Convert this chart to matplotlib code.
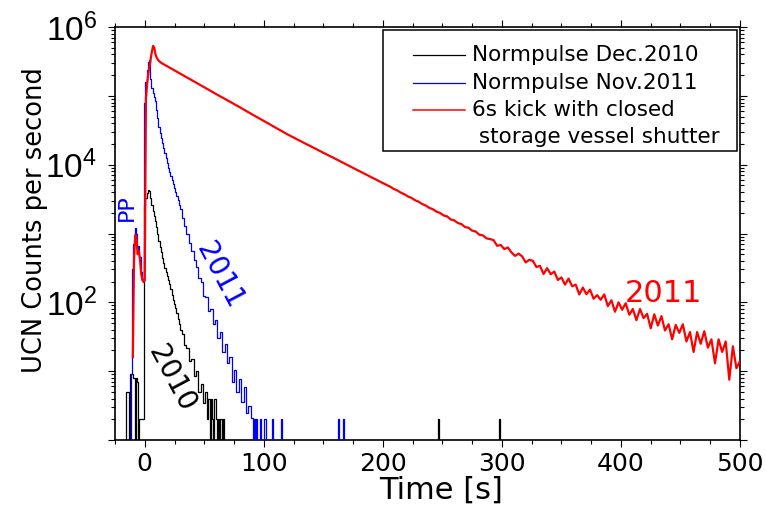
import numpy as np
import matplotlib
matplotlib.use("Agg")
import matplotlib.pyplot as plt
from matplotlib.lines import Line2D
from matplotlib.patches import Rectangle
from matplotlib.ticker import MultipleLocator, FixedLocator, NullFormatter

# figure size in pixels (dpi 100)
W, H = 766, 515

# ---------------------------------------------------------------
# Values, UCN rate in counts per second.
# Each histogram segment: first bin centre [s], bin width [s], rates
# ---------------------------------------------------------------

# 6 s kick with closed storage vessel shutter (red)
red_early_start, red_early_step = -10, 1
red_early = [16, 420, 950, 880, 500, 560, 420, 260, 210, 200,
             210, 9.0e4, 1.5e5, 2.1e5, 2.7e5, 3.4e5, 4.4e5, 5.3e5, 5.0e5, 4.0e5,
             3.6e5, 3.35e5, 3.2e5, 3.1e5, 3.0e5]
red_mid_start, red_mid_step = 15, 5
red_mid = [2.93e5, 2.62e5, 2.34e5, 2.09e5, 1.87e5, 1.67e5, 1.49e5, 1.33e5,
           1.19e5, 1.06e5, 9.5e4, 8.5e4, 7.6e4, 6.8e4, 6.05e4, 5.4e4, 4.83e4,
           4.32e4, 3.86e4, 3.44e4, 3.08e4, 2.75e4, 2.48e4, 2.24e4, 2.02e4,
           1.83e4, 1.65e4, 1.49e4, 1.35e4, 1.22e4, 1.10e4, 9930, 8970, 8100,
           7310, 6610, 5970, 5400]
red_tail_start, red_tail_step = 203, 3
red_tail = [5090, 4800, 4460, 4230, 3930, 3720, 3460, 3290, 3050, 2900,
            2680, 2550, 2360, 2250, 2080, 1990, 1830, 1770, 1600, 1550,
            1420, 1370, 1240, 1210, 1100, 1070, 960, 940, 850, 830,
            800, 663, 680, 594, 626, 532, 473, 510, 465, 380,
            415, 400, 326, 338, 258, 314, 256, 280, 211, 230,
            181, 221, 171, 181, 130, 164, 131, 153, 113, 127,
            109, 130, 88, 107, 73, 100, 78, 97, 66, 80,
            55, 80, 59, 68, 42, 67, 46, 63, 39, 48,
            29, 47, 36, 48, 27, 37, 19, 37, 25, 38,
            22, 29, 13, 29, 19, 27, 7.5, 23, 11, 14]

# Normpulse Nov. 2011 (blue)
blue_early_start, blue_early_step = -12, 1
blue_early = [0, 9, 300, 700, 1200, 1000, 600, 650, 450, 280, 220, 200,
              8.0e4, 1.6e5, 2.4e5, 3.1e5, 3.3e5, 1.78e5, 1.32e5, 1.10e5, 9.5e4,
              8.3e4, 6.2e4, 4.7e4, 3.55e4, 2.9e4, 2.45e4, 2.04e4, 1.74e4,
              1.48e4, 1.26e4, 1.05e4, 8900, 7800, 6900, 6000, 5250, 4570,
              3980, 3470, 3020, 2630, 2240]
blue_mid_start, blue_mid_step = 32, 2
blue_mid = [1700, 1290, 977, 724, 550, 417, 330, 223, 197, 124,
            118, 75, 79, 48, 55, 30, 37, 19, 25, 13,
            16, 7, 10.5, 5, 7.6, 3.6, 5.8, 2.5, 3.1, 2.1]
blue_tail_range = (91, 170)
blue_tail_hits = [92, 94, 97, 101, 107, 115, 163, 167]

# Normpulse Dec. 2010 (black)
black_early_start, black_early_step = -18, 1
black_early = [0, 0, 0, 5, 5, 0, 9, 9, 9, 8, 0, 8, 7, 0, 2, 2, 2, 2,
               2600, 3300, 3900, 4300, 4200, 3300, 2600, 2100, 1800, 1500,
               1250, 1000, 780, 640, 530, 440, 370, 320, 280, 245, 210,
               186, 155, 128, 107, 95, 82, 70, 58, 48, 40]
black_mid_start, black_mid_step = 32, 2
black_mid = [35, 24, 22, 14, 15, 8.5, 10, 5, 6.5, 3.5, 5]
black_late_start, black_late_step = 53, 1
black_late = [2, 4, 0, 4, 2, 0, 4, 2, 0, 2, 0, 2, 0, 2, 0]
black_tail_range = (68, 300)
black_tail_hits = [247, 298]

# a single count in a 0.5 s bin
single_count_rate = 2.0

legend_labels = ["Normpulse Dec.2010", "Normpulse Nov.2011",
                 "6s kick with closed", " storage vessel shutter"]

c_black, c_blue, c_red = "#000000", "#0000ff", "#ff0000"


def segment(start, step, values):
    return start + step * np.arange(len(values)), np.asarray(values, dtype=float)


def sparse_segment(t_range, hits):
    t = np.arange(t_range[0], t_range[1] + 1, dtype=float)
    return t, np.where(np.isin(t, hits), single_count_rate, 0.0)


def join(*parts):
    return (np.concatenate([p[0] for p in parts]),
            np.concatenate([p[1] for p in parts]))


t_red, v_red = join(segment(red_early_start, red_early_step, red_early),
                    segment(red_mid_start, red_mid_step, red_mid),
                    segment(red_tail_start, red_tail_step, red_tail))
t_blue, v_blue = join(segment(blue_early_start, blue_early_step, blue_early),
                      segment(blue_mid_start, blue_mid_step, blue_mid),
                      sparse_segment(blue_tail_range, blue_tail_hits))
t_black, v_black = join(segment(black_early_start, black_early_step, black_early),
                        segment(black_mid_start, black_mid_step, black_mid),
                        segment(black_late_start, black_late_step, black_late),
                        sparse_segment(black_tail_range, black_tail_hits))


def fig_xy(x, y):
    # pixel position -> figure fraction
    return x / W, 1 - y / H


plt.rcParams["font.family"] = "DejaVu Sans"
plt.rcParams["mathtext.fontset"] = "custom"
plt.rcParams["mathtext.rm"] = "Liberation Sans"
plt.rcParams["mathtext.it"] = "Liberation Sans:italic"
plt.rcParams["mathtext.bf"] = "Liberation Sans:bold"

fig = plt.figure(figsize=(W / 100, H / 100), dpi=100)
ax = fig.add_axes([115 / W, 1 - 440 / H, 625 / W, 413 / H])

ax.plot(t_black, v_black, color=c_black, lw=0.9, drawstyle="steps-mid", zorder=2)
ax.plot(t_blue, v_blue, color=c_blue, lw=0.9, drawstyle="steps-mid", zorder=3)
ax.plot(t_red, v_red, color=c_red, lw=1.6, zorder=4)

ax.set_yscale("log")
ax.set_xlim(-25, 500)
ax.set_ylim(1, 1e6)

# ticks
decades = [1e0, 1e1, 1e2, 1e3, 1e4, 1e5, 1e6]
ax.set_xticks([0, 100, 200, 300, 400, 500])
ax.xaxis.set_minor_locator(MultipleLocator(25))
ax.set_yticks(decades)
ax.set_yticklabels(["", "", "$10^{2}$", "", "$10^{4}$", "", "$10^{6}$"])
ax.yaxis.set_minor_locator(FixedLocator([s * d for d in decades[:-1] for s in range(2, 10)]))
ax.yaxis.set_minor_formatter(NullFormatter())
ax.tick_params(which="both", direction="out", top=True, right=True,
               labeltop=False, labelright=False, width=0.8, color="black")
ax.tick_params(which="major", length=5)
ax.tick_params(which="minor", length=3)
ax.tick_params(axis="x", labelsize=18, pad=3.5)
ax.tick_params(axis="y", labelsize=24, pad=8)
for sp in ax.spines.values():
    sp.set_linewidth(1.2)

ax.set_xlabel("Time [s]", fontsize=22, va="center")
ax.xaxis.set_label_coords(0.5216, -0.121)
ax.set_ylabel("UCN Counts per second", fontsize=18.5, va="center")
ax.yaxis.set_label_coords(-0.128, 0.533)

# annotations
ax.text(-15.1, 2350, "PP", color=c_blue, fontsize=16, rotation=90,
        ha="center", va="center", rotation_mode="anchor")
ax.text(63, 250, "2011", color=c_blue, fontsize=20, rotation=-62,
        ha="center", va="center", rotation_mode="anchor")
ax.text(22.7, 7.9, "2010", color=c_black, fontsize=20, rotation=-62,
        ha="center", va="center", rotation_mode="anchor")
ax.text(436, 134, "2011", color=c_red, fontsize=22,
        ha="center", va="center")

# legend box drawn by hand so the layout matches the reference
x0, y0 = fig_xy(383, 151)
fig.add_artist(Rectangle((x0, y0), 354 / W, 121 / H, transform=fig.transFigure,
                         facecolor="white", edgecolor="black", lw=1.1, zorder=10))
rows_y = [55, 83, 110, 137]
for yy, col, lw in zip(rows_y[:3], [c_black, c_blue, c_red], [0.9, 0.9, 1.1]):
    xa, ya = fig_xy(413, yy)
    xb, _ = fig_xy(465, yy)
    fig.add_artist(Line2D([xa, xb], [ya, ya], transform=fig.transFigure,
                          color=col, lw=lw, zorder=11))
for yy, label in zip(rows_y, legend_labels):
    xt, yt = fig_xy(472, yy)
    fig.text(xt, yt, label, fontsize=15.5, ha="left", va="center", zorder=12)

fig.savefig("out.png", dpi=100)
